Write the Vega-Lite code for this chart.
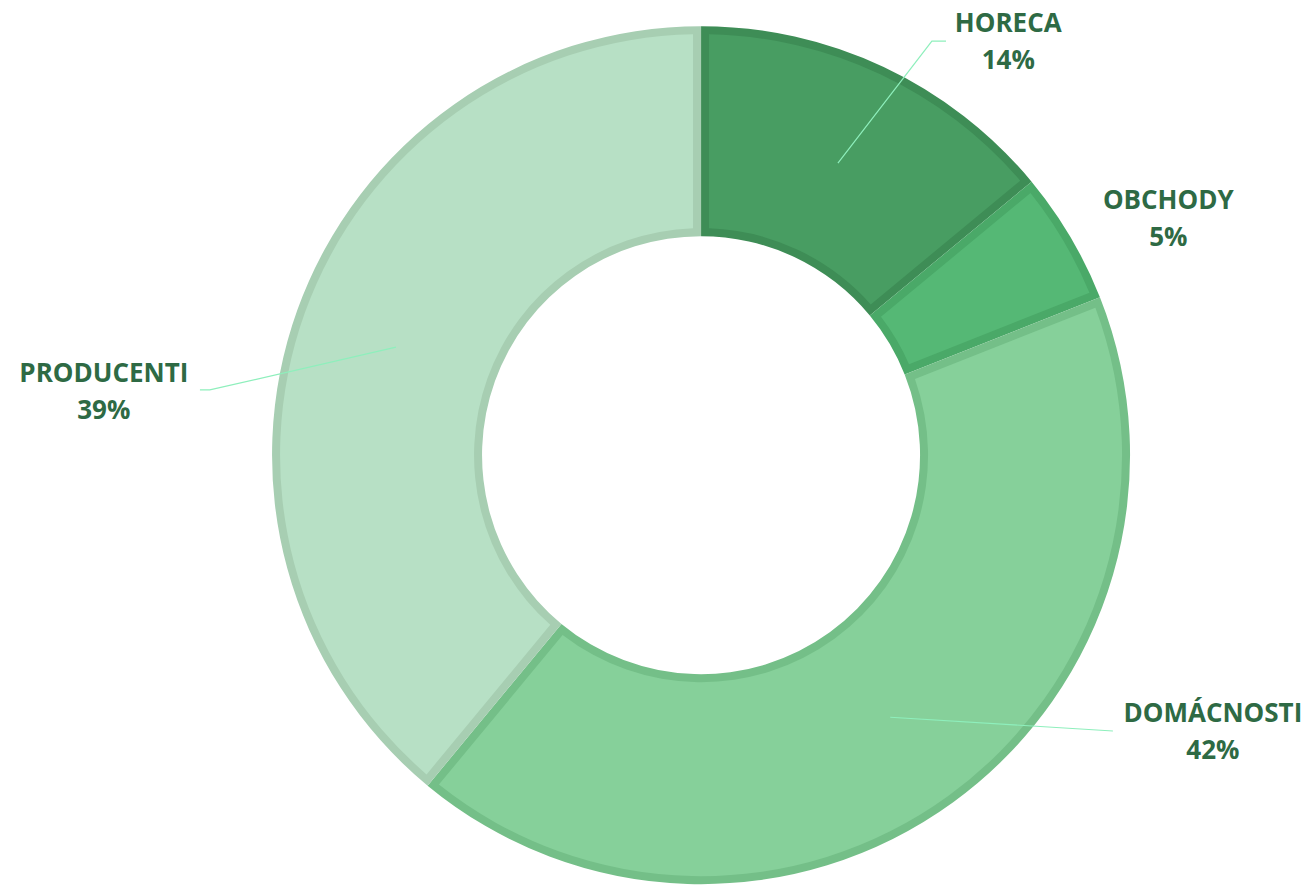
{
  "$schema": "https://vega.github.io/schema/vega-lite/v6.json",
  "width": 1309,
  "height": 885,
  "autosize": {"type": "fit", "contains": "padding"},
  "padding": 0,
  "background": "white",
  "view": {"stroke": null},
  "datasets": {
    "slices": [
      {"name": "HORECA", "pct": "14%", "value": 14, "ord": 1, "lx": 0.716, "ly": 0.964},
      {"name": "OBCHODY", "pct": "5%", "value": 5, "ord": 2, "lx": 1.089, "ly": 0.551},
      {"name": "DOMÁCNOSTI", "pct": "42%", "value": 42, "ord": 3, "lx": 1.193, "ly": -0.645},
      {"name": "PRODUCENTI", "pct": "39%", "value": 39, "ord": 4, "lx": -1.392, "ly": 0.148}
    ],
    "leaders": [
      {"name": "HORECA", "i": 1, "x": 0.319, "y": 0.681},
      {"name": "HORECA", "i": 2, "x": 0.538, "y": 0.965},
      {"name": "HORECA", "i": 3, "x": 0.571, "y": 0.965},
      {"name": "PRODUCENTI", "i": 1, "x": -0.711, "y": 0.252},
      {"name": "PRODUCENTI", "i": 2, "x": -1.145, "y": 0.152},
      {"name": "PRODUCENTI", "i": 3, "x": -1.168, "y": 0.152},
      {"name": "DOMÁCNOSTI", "i": 1, "x": 0.441, "y": -0.611},
      {"name": "DOMÁCNOSTI", "i": 2, "x": 0.960, "y": -0.643}
    ]
  },
  "layer": [
    {
      "data": {"name": "slices"},
      "mark": {"type": "arc", "outerRadius": 429, "innerRadius": 219},
      "encoding": {
        "x": {"datum": 0, "type": "quantitative", "scale": {"domain": [-1.634, 1.417], "nice": false, "zero": false}, "axis": null},
        "y": {"datum": 0, "type": "quantitative", "scale": {"domain": [-1.002, 1.061], "nice": false, "zero": false}, "axis": null},
        "theta": {"field": "value", "type": "quantitative", "stack": true},
        "order": {"field": "ord", "type": "quantitative"},
        "color": {"field": "name", "type": "nominal", "legend": null,
          "scale": {"domain": ["HORECA", "OBCHODY", "DOMÁCNOSTI", "PRODUCENTI"], "range": ["#3E8D56", "#4AA968", "#74BF88", "#A7CEB2"]}}
      }
    },
    {
      "data": {"name": "slices"},
      "mark": {"type": "arc", "outerRadius": 421, "innerRadius": 227, "padAngle": 0.0335},
      "encoding": {
        "x": {"datum": 0, "type": "quantitative", "scale": {"domain": [-1.634, 1.417], "nice": false, "zero": false}, "axis": null},
        "y": {"datum": 0, "type": "quantitative", "scale": {"domain": [-1.002, 1.061], "nice": false, "zero": false}, "axis": null},
        "theta": {"field": "value", "type": "quantitative", "stack": true},
        "order": {"field": "ord", "type": "quantitative"},
        "color": {"field": "name", "type": "nominal", "legend": null,
          "scale": {"domain": ["HORECA", "OBCHODY", "DOMÁCNOSTI", "PRODUCENTI"], "range": ["#489D62", "#55B875", "#86D09A", "#B7E0C5"]}}
      }
    },
    {
      "data": {"name": "leaders"},
      "mark": {"type": "line", "stroke": "#8EEFBC", "strokeWidth": 1.2},
      "encoding": {
        "x": {"field": "x", "type": "quantitative", "scale": {"domain": [-1.634, 1.417], "nice": false, "zero": false}, "axis": null},
        "y": {"field": "y", "type": "quantitative", "scale": {"domain": [-1.002, 1.061], "nice": false, "zero": false}, "axis": null},
        "detail": {"field": "name", "type": "nominal"},
        "order": {"field": "i", "type": "quantitative"}
      }
    },
    {
      "data": {"name": "slices"},
      "mark": {"type": "text", "font": "Open Sans", "fontWeight": "bold", "fontSize": 26, "fill": "#2E6A44", "align": "center", "baseline": "middle", "dy": -18},
      "encoding": {
        "x": {"field": "lx", "type": "quantitative", "scale": {"domain": [-1.634, 1.417], "nice": false, "zero": false}, "axis": null},
        "y": {"field": "ly", "type": "quantitative", "scale": {"domain": [-1.002, 1.061], "nice": false, "zero": false}, "axis": null},
        "text": {"field": "name", "type": "nominal"}
      }
    },
    {
      "data": {"name": "slices"},
      "mark": {"type": "text", "font": "Open Sans", "fontWeight": "bold", "fontSize": 26, "fill": "#2E6A44", "align": "center", "baseline": "middle", "dy": 19},
      "encoding": {
        "x": {"field": "lx", "type": "quantitative", "scale": {"domain": [-1.634, 1.417], "nice": false, "zero": false}, "axis": null},
        "y": {"field": "ly", "type": "quantitative", "scale": {"domain": [-1.002, 1.061], "nice": false, "zero": false}, "axis": null},
        "text": {"field": "pct", "type": "nominal"}
      }
    }
  ],
  "resolve": {"scale": {"color": "independent"}}
}
